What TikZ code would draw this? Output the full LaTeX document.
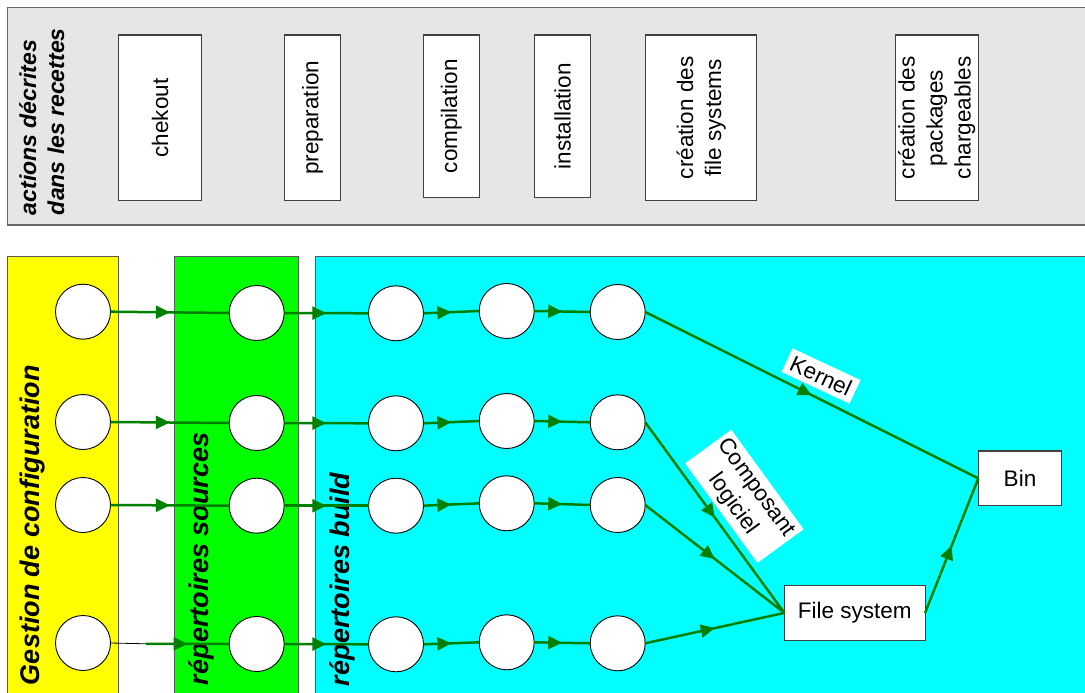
\documentclass[tikz,border=0pt]{standalone}
\usepackage{fontspec}
\setmainfont{Liberation Sans}
\usetikzlibrary{arrows.meta,decorations.markings}

\definecolor{hdrgray}{RGB}{230,230,230}
\definecolor{cfgyellow}{RGB}{255,255,0}
\definecolor{srcgreen}{RGB}{0,255,0}
\definecolor{bldcyan}{RGB}{0,255,255}
\definecolor{flowgreen}{RGB}{0,128,0}

\begin{document}
\begin{tikzpicture}[x=1pt,y=-1pt,
  every node/.style={inner sep=0pt, outer sep=0pt},
  lbl/.style={font=\fontsize{22.5}{28}\selectfont},
  hdrtext/.style={font=\fontsize{23}{28}\selectfont\bfseries\itshape, rotate=90, anchor=base west},
  colhead/.style={font=\fontsize{27}{32}\selectfont\bfseries\itshape, rotate=90, anchor=base west},
  actbox/.style={lbl, draw=black!75, line width=1.1pt, fill=white, rotate=90, align=center},
  outbox/.style={lbl, draw=black!75, line width=1.1pt, fill=white},
  tag/.style={lbl, fill=white, align=center},
  stage/.style={circle, draw=black, line width=0.9pt, fill=white, minimum size=55pt},
  flow/.style={draw=flowgreen, line width=2.5pt, postaction={decorate},
    decoration={markings, mark=at position 0.5 with
      {\arrow{Triangle[length=14pt,width=13pt,color=flowgreen]}}}},
  lane/.style={black!65, line width=1pt}
]
\useasboundingbox (0,0) rectangle (1085,693);
\clip (0,0) rectangle (1085,693);

% band of recipe actions
\fill[hdrgray] (7.5,7.5) rectangle (1090,225);
\draw[black!60, line width=1.5pt] (1090,7.5) -- (7.5,7.5) -- (7.5,225) -- (1090,225);
\node[hdrtext] (hdrA) at (36,215) {actions décrites};
\node[hdrtext] (hdrB) at (64,215) {dans les recettes};

\node[actbox, minimum width=165.7pt, minimum height=83.4pt] (chk)  at (160,117.9)   {chekout};
\node[actbox, minimum width=165.3pt, minimum height=55.6pt] (prep) at (312.5,117.7) {preparation};
\node[actbox, minimum width=162.3pt, minimum height=56pt]   (cmp)  at (451.3,116.2) {compilation};
\node[actbox, minimum width=162.3pt, minimum height=56.4pt] (inst) at (562.5,116.2) {installation};
\node[actbox, minimum width=165.7pt, minimum height=111pt]  (fsys) at (701.2,117.9) {création des\\file systems};
\node[actbox, minimum width=165.7pt, minimum height=83.3pt] (pkgs) at (936.7,117.9) {création des\\packages\\chargeables};

% lanes
\fill[cfgyellow] (7.5,256) rectangle (118,700);
\draw[lane] (7.5,700) -- (7.5,256) -- (118,256) -- (118,700);
\fill[srcgreen] (174,256) rectangle (298,700);
\draw[lane] (174,700) -- (174,256) -- (298,256) -- (298,700);
\fill[bldcyan] (315,256) rectangle (1090,700);
\draw[lane] (315,700) -- (315,256) -- (1090,256);

\node[colhead] (lcfg) at (39.5,685) {Gestion de configuration};
\node[colhead] (lsrc) at (208,685) {répertoires sources};
\node[colhead] (lbld) at (349,686) {répertoires build};

% configuration items
\node[stage] (y1) at (83,311.7) {};
\node[stage] (y2) at (83,422) {};
\node[stage] (y3) at (83,505) {};
\node[stage] (y4) at (83,643) {};
% source trees
\node[stage] (g1) at (256.7,313) {};
\node[stage] (g2) at (256.7,423) {};
\node[stage] (g3) at (256.7,505.7) {};
\node[stage] (g4) at (256.7,644) {};
% build trees
\node[stage] (a1) at (396,313.3) {};
\node[stage] (a2) at (396,423.3) {};
\node[stage] (a3) at (396,505.7) {};
\node[stage] (a4) at (396,644.3) {};
\node[stage] (b1) at (506.7,311) {};
\node[stage] (b2) at (506.7,421) {};
\node[stage] (b3) at (506.7,503.3) {};
\node[stage] (b4) at (506.7,642.3) {};
\node[stage] (c1) at (617.7,312) {};
\node[stage] (c2) at (617.7,422.3) {};
\node[stage] (c3) at (617.7,505) {};
\node[stage] (c4) at (617.7,643.3) {};

% products
\node[outbox, minimum width=140.7pt, minimum height=54.3pt] (fs)  at (854.7,612.9) {File system};
\node[outbox, minimum width=83.4pt,  minimum height=54.7pt] (bin) at (1020,478.3) {Bin};

% flows
\draw[flow] (y1.east) -- (g1.west);
\draw[flow] (y2.east) -- (g2.west);
\draw[flow] (y3.east) -- (g3.west);
\coordinate (j4) at (146,643.8);
\draw[black, line width=0.8pt] (y4.east) -- (j4);
\draw[flow] (j4) -- (g4.west);

\foreach \r in {1,2,3,4}{
  \draw[flow] (g\r.east) -- (a\r.west);
  \draw[flow] (a\r.east) -- (b\r.west);
  \draw[flow] (b\r.east) -- (c\r.west);
}

\draw[flow] (c1.east) -- (bin.west);
\draw[flow] (c2.east) -- (fs.west);
\draw[flow] (c3.east) -- (fs.west);
\draw[flow] (c4.east) -- (fs.west);
\draw[flow] (fs.east) -- (bin.west);

% flow labels
\node[tag, rotate=-25, minimum width=75pt, minimum height=26pt] (kern) at (821,376) {Kernel};
\node[tag, rotate=-54, minimum width=123pt, minimum height=57pt] (cpl) at (744.4,496.3) {Composant\\logiciel};
\end{tikzpicture}
\end{document}
